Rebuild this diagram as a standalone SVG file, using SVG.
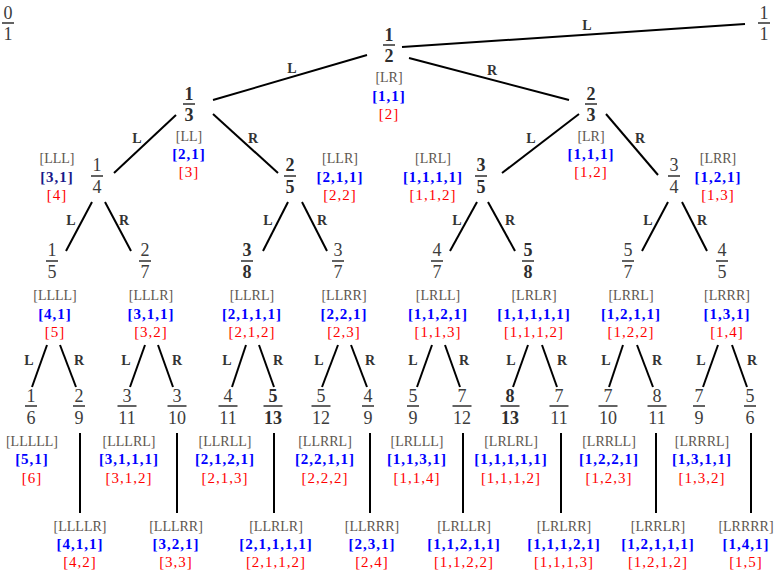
<svg xmlns="http://www.w3.org/2000/svg" width="781" height="576" viewBox="0 0 781 576">
<style>
text{font-family:"Liberation Serif","Times New Roman",serif;text-anchor:middle}
.n{font-size:18px;fill:#3c3c3c}
.b{font-weight:bold;fill:#2e2e2e}
.bar{stroke:#3c3c3c;stroke-width:1.6}
.p{font-size:14px;fill:#5e5650}
.c{font-size:15px;font-weight:bold;fill:#0000ff;letter-spacing:1px}
.k{font-size:15px;fill:#ff0000;letter-spacing:1px}
.e{stroke:#000;stroke-width:2;fill:none}
.el{font-size:14px;font-weight:bold;fill:#333}
</style>
<rect width="781" height="576" fill="#fff"/>
<g id="connectors">
<line class="e" x1="402" y1="47" x2="745" y2="24"/><text class="el" x="587" y="30">L</text>
<line class="e" x1="367" y1="55" x2="213" y2="100"/><text class="el" x="292" y="73">L</text>
<line class="e" x1="409" y1="58" x2="569" y2="100"/><text class="el" x="492" y="75">R</text>
<line class="e" x1="176" y1="115" x2="114" y2="173"/><text class="el" x="137" y="143">L</text>
<line class="e" x1="213" y1="114" x2="278" y2="173"/><text class="el" x="253" y="143">R</text>
<line class="e" x1="579" y1="114" x2="502" y2="173"/><text class="el" x="531" y="143">L</text>
<line class="e" x1="606" y1="114" x2="658" y2="175"/><text class="el" x="640" y="143">R</text>
<line class="e" x1="92" y1="202" x2="66" y2="251"/><text class="el" x="71" y="225">L</text>
<line class="e" x1="105" y1="202" x2="131" y2="251"/><text class="el" x="124" y="225">R</text>
<line class="e" x1="288" y1="202" x2="263" y2="251"/><text class="el" x="268" y="225">L</text>
<line class="e" x1="302" y1="202" x2="327" y2="251"/><text class="el" x="322" y="225">R</text>
<line class="e" x1="477" y1="202" x2="450" y2="251"/><text class="el" x="457" y="225">L</text>
<line class="e" x1="488" y1="202" x2="515" y2="251"/><text class="el" x="510" y="225">R</text>
<line class="e" x1="668" y1="202" x2="642" y2="251"/><text class="el" x="648" y="225">L</text>
<line class="e" x1="682" y1="202" x2="707" y2="251"/><text class="el" x="702" y="225">R</text>
<line class="e" x1="47" y1="345" x2="32" y2="387"/><text class="el" x="29" y="365">L</text>
<line class="e" x1="60" y1="345" x2="76" y2="387"/><text class="el" x="79" y="365">R</text>
<line class="e" x1="145" y1="345" x2="130" y2="387"/><text class="el" x="126" y="365">L</text>
<line class="e" x1="158" y1="345" x2="173" y2="387"/><text class="el" x="177" y="365">R</text>
<line class="e" x1="246" y1="345" x2="232" y2="387"/><text class="el" x="227" y="365">L</text>
<line class="e" x1="259" y1="345" x2="274" y2="387"/><text class="el" x="278" y="365">R</text>
<line class="e" x1="338" y1="345" x2="322" y2="387"/><text class="el" x="319" y="365">L</text>
<line class="e" x1="351" y1="345" x2="367" y2="387"/><text class="el" x="370" y="365">R</text>
<line class="e" x1="432" y1="345" x2="417" y2="387"/><text class="el" x="413" y="365">L</text>
<line class="e" x1="445" y1="345" x2="460" y2="387"/><text class="el" x="464" y="365">R</text>
<line class="e" x1="528" y1="345" x2="513" y2="387"/><text class="el" x="511" y="365">L</text>
<line class="e" x1="542" y1="345" x2="557" y2="387"/><text class="el" x="562" y="365">R</text>
<line class="e" x1="623" y1="345" x2="609" y2="387"/><text class="el" x="606" y="365">L</text>
<line class="e" x1="637" y1="345" x2="653" y2="387"/><text class="el" x="657" y="365">R</text>
<line class="e" x1="718" y1="345" x2="703" y2="387"/><text class="el" x="701" y="365">L</text>
<line class="e" x1="732" y1="345" x2="747" y2="387"/><text class="el" x="752" y="365">R</text>
<line class="e" x1="80" y1="433" x2="80" y2="513"/>
<line class="e" x1="177" y1="433" x2="177" y2="513"/>
<line class="e" x1="274" y1="433" x2="274" y2="513"/>
<line class="e" x1="370" y1="433" x2="370" y2="513"/>
<line class="e" x1="463" y1="433" x2="463" y2="513"/>
<line class="e" x1="561" y1="433" x2="561" y2="513"/>
<line class="e" x1="656" y1="433" x2="656" y2="513"/>
<line class="e" x1="751" y1="433" x2="751" y2="513"/>
</g>
<g id="n0_1"><text class="n" x="8" y="19">0</text><line class="bar" x1="2" y1="23" x2="14" y2="23"/><text class="n" x="8" y="40">1</text></g>
<g id="n1_1"><text class="n" x="764" y="19">1</text><line class="bar" x1="758" y1="23" x2="770" y2="23"/><text class="n" x="764" y="40">1</text></g>
<g id="n1_2"><text class="n b" x="389" y="41">1</text><line class="bar" x1="383" y1="45" x2="395" y2="45"/><text class="n b" x="389" y="62">2</text>
<text class="p" x="389" y="82">[LR]</text><text class="c" x="389" y="101">[1,1]</text><text class="k" x="389" y="119">[2]</text></g>
<g id="n1_3"><text class="n b" x="189" y="100">1</text><line class="bar" x1="183" y1="104" x2="195" y2="104"/><text class="n b" x="189" y="121">3</text>
<text class="p" x="189" y="141">[LL]</text><text class="c" x="189" y="159">[2,1]</text><text class="k" x="189" y="177">[3]</text></g>
<g id="n2_3"><text class="n b" x="591" y="100">2</text><line class="bar" x1="585" y1="104" x2="597" y2="104"/><text class="n b" x="591" y="121">3</text>
<text class="p" x="591" y="141">[LR]</text><text class="c" x="591" y="159">[1,1,1]</text><text class="k" x="591" y="177">[1,2]</text></g>
<g id="n1_4"><text class="n" x="97" y="171">1</text><line class="bar" x1="91" y1="176" x2="103" y2="176"/><text class="n" x="97" y="193">4</text>
<text class="p" x="57" y="163">[LLL]</text><text class="c" x="57" y="182" style="fill:#1a1a8a">[3,1]</text><text class="k" x="57" y="200">[4]</text></g>
<g id="n2_5"><text class="n b" x="290" y="171">2</text><line class="bar" x1="284" y1="176" x2="296" y2="176"/><text class="n b" x="290" y="193">5</text>
<text class="p" x="340" y="163">[LLR]</text><text class="c" x="340" y="182">[2,1,1]</text><text class="k" x="340" y="200">[2,2]</text></g>
<g id="n3_5"><text class="n b" x="481" y="171">3</text><line class="bar" x1="475" y1="176" x2="487" y2="176"/><text class="n b" x="481" y="193">5</text>
<text class="p" x="433" y="163">[LRL]</text><text class="c" x="433" y="182">[1,1,1,1]</text><text class="k" x="433" y="200">[1,1,2]</text></g>
<g id="n3_4"><text class="n" x="674" y="171">3</text><line class="bar" x1="668" y1="176" x2="680" y2="176"/><text class="n" x="674" y="193">4</text>
<text class="p" x="718" y="163">[LRR]</text><text class="c" x="718" y="182">[1,2,1]</text><text class="k" x="718" y="200">[1,3]</text></g>
<g id="n1_5"><text class="n" x="52" y="256">1</text><line class="bar" x1="46" y1="261" x2="58" y2="261"/><text class="n" x="52" y="278">5</text>
<text class="p" x="55" y="300">[LLLL]</text><text class="c" x="55" y="319">[4,1]</text><text class="k" x="55" y="337">[5]</text></g>
<g id="n2_7"><text class="n" x="145" y="256">2</text><line class="bar" x1="139" y1="261" x2="151" y2="261"/><text class="n" x="145" y="278">7</text>
<text class="p" x="151" y="300">[LLLR]</text><text class="c" x="151" y="319">[3,1,1]</text><text class="k" x="151" y="337">[3,2]</text></g>
<g id="n3_8"><text class="n b" x="247" y="256">3</text><line class="bar" x1="241" y1="261" x2="253" y2="261"/><text class="n b" x="247" y="278">8</text>
<text class="p" x="252" y="300">[LLRL]</text><text class="c" x="252" y="319">[2,1,1,1]</text><text class="k" x="252" y="337">[2,1,2]</text></g>
<g id="n3_7"><text class="n" x="338" y="256">3</text><line class="bar" x1="332" y1="261" x2="344" y2="261"/><text class="n" x="338" y="278">7</text>
<text class="p" x="344" y="300">[LLRR]</text><text class="c" x="344" y="319">[2,2,1]</text><text class="k" x="344" y="337">[2,3]</text></g>
<g id="n4_7"><text class="n" x="437" y="256">4</text><line class="bar" x1="431" y1="261" x2="443" y2="261"/><text class="n" x="437" y="278">7</text>
<text class="p" x="438" y="300">[LRLL]</text><text class="c" x="438" y="319">[1,1,2,1]</text><text class="k" x="438" y="337">[1,1,3]</text></g>
<g id="n5_8"><text class="n b" x="528" y="256">5</text><line class="bar" x1="522" y1="261" x2="534" y2="261"/><text class="n b" x="528" y="278">8</text>
<text class="p" x="534" y="300">[LRLR]</text><text class="c" x="534" y="319">[1,1,1,1,1]</text><text class="k" x="534" y="337">[1,1,1,2]</text></g>
<g id="n5_7"><text class="n" x="628" y="256">5</text><line class="bar" x1="622" y1="261" x2="634" y2="261"/><text class="n" x="628" y="278">7</text>
<text class="p" x="631" y="300">[LRRL]</text><text class="c" x="631" y="319">[1,2,1,1]</text><text class="k" x="631" y="337">[1,2,2]</text></g>
<g id="n4_5"><text class="n" x="722" y="256">4</text><line class="bar" x1="716" y1="261" x2="728" y2="261"/><text class="n" x="722" y="278">5</text>
<text class="p" x="727" y="300">[LRRR]</text><text class="c" x="727" y="319">[1,3,1]</text><text class="k" x="727" y="337">[1,4]</text></g>
<g id="n1_6"><text class="n" x="31" y="402">1</text><line class="bar" x1="25" y1="406" x2="37" y2="406"/><text class="n" x="31" y="424">6</text>
<text class="p" x="32" y="446">[LLLLL]</text><text class="c" x="32" y="464">[5,1]</text><text class="k" x="32" y="483">[6]</text></g>
<g id="n2_9"><text class="n" x="79" y="402">2</text><line class="bar" x1="73" y1="406" x2="85" y2="406"/><text class="n" x="79" y="424">9</text>
<text class="p" x="80" y="531">[LLLLR]</text><text class="c" x="80" y="549">[4,1,1]</text><text class="k" x="80" y="567">[4,2]</text></g>
<g id="n3_11"><text class="n" x="127" y="402">3</text><line class="bar" x1="117.5" y1="406" x2="136.5" y2="406"/><text class="n" x="127" y="424">11</text>
<text class="p" x="129" y="446">[LLLRL]</text><text class="c" x="129" y="464">[3,1,1,1]</text><text class="k" x="129" y="483">[3,1,2]</text></g>
<g id="n3_10"><text class="n" x="177" y="402">3</text><line class="bar" x1="167.5" y1="406" x2="186.5" y2="406"/><text class="n" x="177" y="424">10</text>
<text class="p" x="176" y="531">[LLLRR]</text><text class="c" x="176" y="549">[3,2,1]</text><text class="k" x="176" y="567">[3,3]</text></g>
<g id="n4_11"><text class="n" x="228" y="402">4</text><line class="bar" x1="218.5" y1="406" x2="237.5" y2="406"/><text class="n" x="228" y="424">11</text>
<text class="p" x="225" y="446">[LLRLL]</text><text class="c" x="225" y="464">[2,1,2,1]</text><text class="k" x="225" y="483">[2,1,3]</text></g>
<g id="n5_13"><text class="n b" x="273" y="402">5</text><line class="bar" x1="263.5" y1="406" x2="282.5" y2="406"/><text class="n b" x="273" y="424">13</text>
<text class="p" x="276" y="531">[LLRLR]</text><text class="c" x="276" y="549">[2,1,1,1,1]</text><text class="k" x="276" y="567">[2,1,1,2]</text></g>
<g id="n5_12"><text class="n" x="321" y="402">5</text><line class="bar" x1="311.5" y1="406" x2="330.5" y2="406"/><text class="n" x="321" y="424">12</text>
<text class="p" x="325" y="446">[LLRRL]</text><text class="c" x="325" y="464">[2,2,1,1]</text><text class="k" x="325" y="483">[2,2,2]</text></g>
<g id="n4_9"><text class="n" x="368" y="402">4</text><line class="bar" x1="362" y1="406" x2="374" y2="406"/><text class="n" x="368" y="424">9</text>
<text class="p" x="372" y="531">[LLRRR]</text><text class="c" x="372" y="549">[2,3,1]</text><text class="k" x="372" y="567">[2,4]</text></g>
<g id="n5_9"><text class="n" x="413" y="402">5</text><line class="bar" x1="407" y1="406" x2="419" y2="406"/><text class="n" x="413" y="424">9</text>
<text class="p" x="417" y="446">[LRLLL]</text><text class="c" x="417" y="464">[1,1,3,1]</text><text class="k" x="417" y="483">[1,1,4]</text></g>
<g id="n7_12"><text class="n" x="462" y="402">7</text><line class="bar" x1="452.5" y1="406" x2="471.5" y2="406"/><text class="n" x="462" y="424">12</text>
<text class="p" x="464" y="531">[LRLLR]</text><text class="c" x="464" y="549">[1,1,2,1,1]</text><text class="k" x="464" y="567">[1,1,2,2]</text></g>
<g id="n8_13"><text class="n b" x="510" y="402">8</text><line class="bar" x1="500.5" y1="406" x2="519.5" y2="406"/><text class="n b" x="510" y="424">13</text>
<text class="p" x="511" y="446">[LRLRL]</text><text class="c" x="511" y="464">[1,1,1,1,1]</text><text class="k" x="511" y="483">[1,1,1,2]</text></g>
<g id="n7_11"><text class="n" x="559" y="402">7</text><line class="bar" x1="549.5" y1="406" x2="568.5" y2="406"/><text class="n" x="559" y="424">11</text>
<text class="p" x="564" y="531">[LRLRR]</text><text class="c" x="564" y="549">[1,1,1,2,1]</text><text class="k" x="564" y="567">[1,1,1,3]</text></g>
<g id="n7_10"><text class="n" x="608" y="402">7</text><line class="bar" x1="598.5" y1="406" x2="617.5" y2="406"/><text class="n" x="608" y="424">10</text>
<text class="p" x="609" y="446">[LRRLL]</text><text class="c" x="609" y="464">[1,2,2,1]</text><text class="k" x="609" y="483">[1,2,3]</text></g>
<g id="n8_11"><text class="n" x="657" y="402">8</text><line class="bar" x1="647.5" y1="406" x2="666.5" y2="406"/><text class="n" x="657" y="424">11</text>
<text class="p" x="658" y="531">[LRRLR]</text><text class="c" x="658" y="549">[1,2,1,1,1]</text><text class="k" x="658" y="567">[1,2,1,2]</text></g>
<g id="n7_9"><text class="n" x="699" y="402">7</text><line class="bar" x1="693" y1="406" x2="705" y2="406"/><text class="n" x="699" y="424">9</text>
<text class="p" x="702" y="446">[LRRRL]</text><text class="c" x="702" y="464">[1,3,1,1]</text><text class="k" x="702" y="483">[1,3,2]</text></g>
<g id="n5_6"><text class="n" x="750" y="402">5</text><line class="bar" x1="744" y1="406" x2="756" y2="406"/><text class="n" x="750" y="424">6</text>
<text class="p" x="746" y="531">[LRRRR]</text><text class="c" x="746" y="549">[1,4,1]</text><text class="k" x="746" y="567">[1,5]</text></g>
</svg>
